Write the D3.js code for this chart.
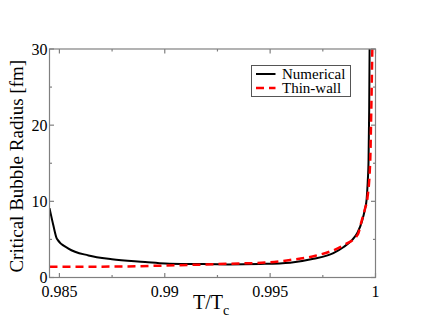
<!DOCTYPE html>
<html>
<head>
<meta charset="utf-8">
<script src="https://cdn.jsdelivr.net/npm/d3@7"></script>
<style>
  body { margin: 0; background: #fff; }
  svg { display: block; }
  text { font-family: 'Liberation Serif', 'Times New Roman', serif; fill: #000; }
</style>
</head>
<body>
<script>
// values
let numT = [0.98453, 0.9847, 0.98488, 0.98543, 0.98638, 0.98749, 0.98907, 0.99002, 0.9915, 0.993, 0.9945, 0.99595, 0.99706, 0.998, 0.99849, 0.99888, 0.99915, 0.99936, 0.9995, 0.99958, 0.99963, 0.99967, 0.9997, 0.99972]
let numR = [9.1, 7.0, 5.1, 3.8, 2.9, 2.4, 2.05, 1.85, 1.77, 1.72, 1.78, 1.95, 2.45, 3.2, 4.0, 4.9, 5.9, 7.4, 9.0, 10.3, 12.5, 15.4, 22, 30]
let thinT = [0.98453, 0.988, 0.9905, 0.993, 0.995, 0.99595, 0.99706, 0.99849, 0.99915, 0.99935, 0.9995, 0.99962, 0.99975, 0.9998, 0.99985]
let thinR = [1.4, 1.45, 1.6, 1.8, 2.0, 2.3, 2.8, 4.25, 5.6, 7.5, 9.0, 10.5, 15.4, 22, 30]
let xTicks = [0.985, 0.99, 0.995, 1]
let xTickLabels = ['0.985', '0.99', '0.995', '1']
let yTicks = [0, 10, 20, 30]
let series = [
  { name: 'Numerical', t: numT, r: numR, color: '#000', dash: null, width: 2 },
  { name: 'Thin-wall', t: thinT, r: thinR, color: '#ff0000', dash: '8,5', width: 2.5 }
]

let W = 423
let H = 327
let m = { left: 49.5, top: 49, right: 375.5, bottom: 277.5 }
let axisColor = '#808080'

let svg = d3.select('body').append('svg')
    .attr('width', W)
    .attr('height', H)

let x = d3.scaleLinear().domain([0.98453, 1]).range([m.left, m.right])
let y = d3.scaleLinear().domain([0, 30]).range([m.bottom, m.top])

// clip so the steep end stays inside the frame
svg.append('defs').append('clipPath')
    .attr('id', 'plotClip')
  .append('rect')
    .attr('x', m.left)
    .attr('y', m.top)
    .attr('width', m.right - m.left)
    .attr('height', m.bottom - m.top)

let line = d3.line()
    .curve(d3.curveMonotoneX)
    .x(d => x(d[0]))
    .y(d => y(d[1]))

let plot = svg.append('g').attr('clip-path', 'url(#plotClip)')
series.forEach(function (s) {
  plot.append('path')
      .datum(s.t.map((t, i) => [t, s.r[i]]))
      .attr('fill', 'none')
      .attr('stroke', s.color)
      .attr('stroke-width', s.width)
      .attr('stroke-dasharray', s.dash)
      .attr('stroke-linejoin', 'round')
      .attr('d', line)
})

// frame with inward ticks on all four sides
let minorX = d3.range(0.9875, 1, 0.005)
let minorY = [5, 15, 25]
let ax = svg.append('g').attr('stroke', axisColor).attr('stroke-width', 1.2)

ax.append('rect')
    .attr('x', m.left)
    .attr('y', m.top)
    .attr('width', m.right - m.left)
    .attr('height', m.bottom - m.top)
    .attr('fill', 'none')

function xTick (v, len) {
  ax.append('line').attr('x1', x(v)).attr('x2', x(v)).attr('y1', m.bottom).attr('y2', m.bottom - len)
  ax.append('line').attr('x1', x(v)).attr('x2', x(v)).attr('y1', m.top).attr('y2', m.top + len)
}
function yTick (v, len) {
  ax.append('line').attr('y1', y(v)).attr('y2', y(v)).attr('x1', m.left).attr('x2', m.left + len)
  ax.append('line').attr('y1', y(v)).attr('y2', y(v)).attr('x1', m.right).attr('x2', m.right - len)
}
xTicks.forEach(v => xTick(v, 4.5))
minorX.forEach(v => xTick(v, 2.5))
yTicks.forEach(v => yTick(v, 4.5))
minorY.forEach(v => yTick(v, 2.5))

// tick labels
svg.append('g').selectAll('text')
    .data(xTicks)
  .join('text')
    .attr('x', d => x(d))
    .attr('y', m.bottom + 19)
    .attr('text-anchor', 'middle')
    .attr('font-size', 16)
    .text((d, i) => xTickLabels[i])

svg.append('g').selectAll('text')
    .data(yTicks)
  .join('text')
    .attr('x', m.left - 2)
    .attr('y', d => y(d) + 5.5)
    .attr('text-anchor', 'end')
    .attr('font-size', 16)
    .text(d => d)

// axis titles
let xt = svg.append('text')
    .attr('x', 193)
    .attr('y', 309)
    .attr('font-size', 20)
xt.append('tspan').text('T/T')
xt.append('tspan').attr('font-size', 14).attr('dy', 6).text('c')

svg.append('text')
    .attr('transform', 'translate(23,' + ((m.top + m.bottom) / 2 + 3) + ') rotate(-90)')
    .attr('text-anchor', 'middle')
    .attr('font-size', 19)
    .text('Critical Bubble Radius [fm]')

// legend
let lg = svg.append('g')
lg.append('rect')
    .attr('x', 251.5)
    .attr('y', 65.5)
    .attr('width', 99)
    .attr('height', 31)
    .attr('fill', '#fff')
    .attr('stroke', '#555')
    .attr('stroke-width', 1)

series.forEach(function (s, i) {
  let ly = 74 + i * 14
  lg.append('line')
      .attr('x1', 256)
      .attr('x2', 275.5)
      .attr('y1', ly)
      .attr('y2', ly)
      .attr('stroke', s.color)
      .attr('stroke-width', s.width)
      .attr('stroke-dasharray', s.dash)
  lg.append('text')
      .attr('x', 282)
      .attr('y', ly + 5)
      .attr('font-size', 15)
      .text(s.name)
})
</script>
</body>
</html>
